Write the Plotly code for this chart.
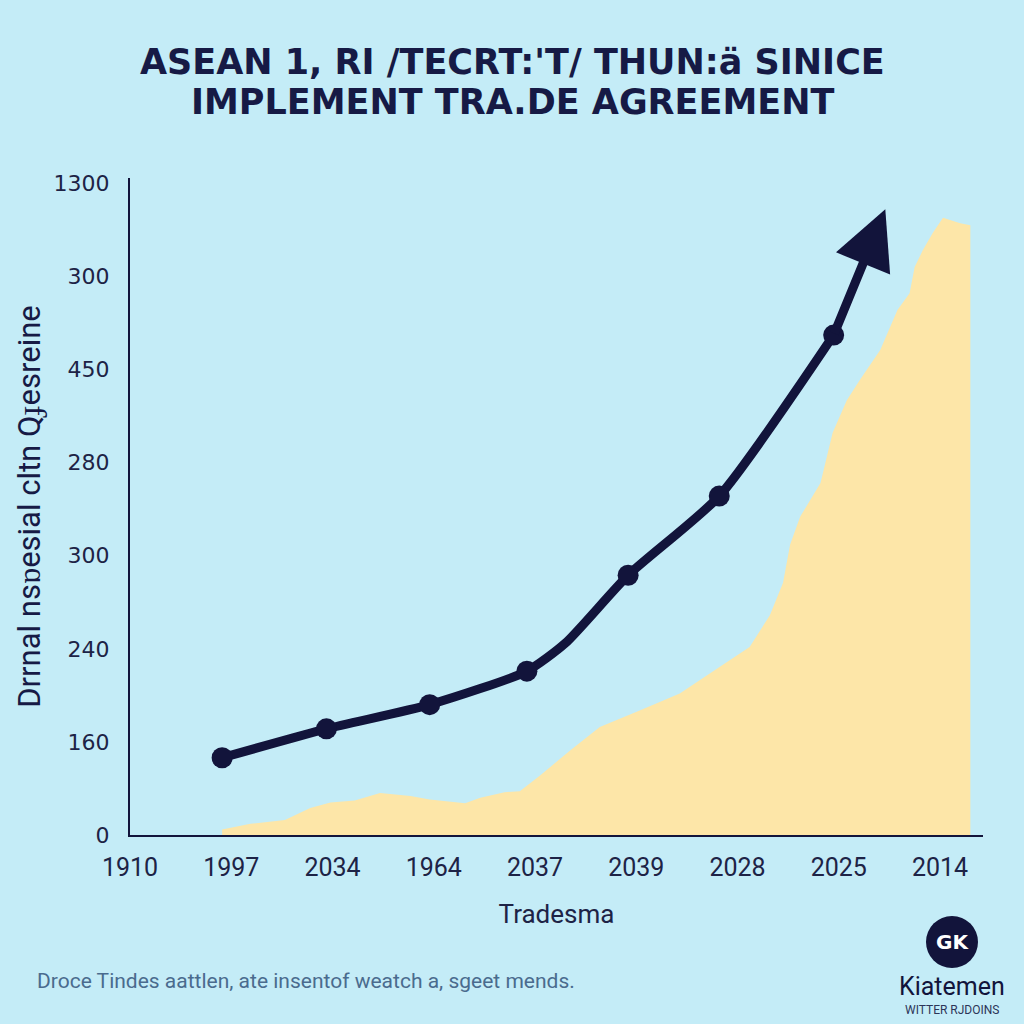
import plotly.graph_objects as go

# axis tick labels (as printed on the chart)
x_tick_labels = ["1910", "1997", "2034", "1964", "2037", "2039", "2028", "2025", "2014"]
y_tick_labels = ["0", "160", "240", "300", "280", "450", "300", "1300"]

# trend line (positions in tick units)
trend_x = [0.91, 1.94, 2.96, 3.92, 4.30, 4.92, 5.82, 6.95]
trend_y = [0.83, 1.14, 1.40, 1.76, 2.06, 2.79, 3.64, 5.37]
marker_x = [0.91, 1.94, 2.96, 3.92, 4.92, 5.82, 6.95]
marker_y = [0.83, 1.14, 1.40, 1.76, 2.79, 3.64, 5.37]
arrow_tip = (7.46, 6.72)

# shaded trade volume area
area_x = [0.91, 1.19, 1.53, 1.78, 1.98, 2.22, 2.47, 2.77, 2.96, 3.31, 3.46, 3.70,
          3.85, 4.05, 4.35, 4.64, 5.04, 5.43, 5.83, 6.12, 6.32, 6.45, 6.52, 6.62,
          6.82, 6.94, 7.08, 7.21, 7.41, 7.58, 7.70, 7.75, 7.83, 7.93, 8.03, 8.20, 8.30]
area_y = [0.06, 0.12, 0.16, 0.29, 0.35, 0.37, 0.45, 0.42, 0.38, 0.34, 0.40, 0.46,
          0.47, 0.64, 0.91, 1.16, 1.34, 1.52, 1.81, 2.02, 2.36, 2.71, 3.12, 3.42,
          3.78, 4.32, 4.67, 4.89, 5.21, 5.64, 5.82, 6.10, 6.28, 6.47, 6.63, 6.57, 6.55]

title_lines = ["ASEAN 1, RI /TECRT:'T/ THUN:ä SINICE", "IMPLEMENT TRA.DE AGREEMENT"]

NAVY = "#12143b"
BG = "#c4ecf7"

fig = go.Figure()

fig.add_trace(
    go.Scatter(
        x=area_x,
        y=area_y,
        mode="lines",
        fill="tozeroy",
        fillcolor="#fde6a8",
        line=dict(color="#fde6a8", width=0),
        hoverinfo="skip",
        showlegend=False,
    )
)

fig.add_trace(
    go.Scatter(
        x=trend_x,
        y=trend_y,
        mode="lines",
        line=dict(color=NAVY, width=9, shape="spline", smoothing=0.6),
        showlegend=False,
    )
)

fig.add_trace(
    go.Scatter(
        x=marker_x,
        y=marker_y,
        mode="markers",
        marker=dict(color=NAVY, size=21),
        showlegend=False,
    )
)

fig.add_annotation(
    x=arrow_tip[0],
    y=arrow_tip[1],
    ax=trend_x[-1],
    ay=trend_y[-1],
    xref="x",
    yref="y",
    axref="x",
    ayref="y",
    text="",
    showarrow=True,
    arrowhead=2,
    arrowsize=1.3,
    arrowwidth=9,
    arrowcolor=NAVY,
    standoff=0,
)

# title, one annotation per line to control spacing
for line, ypix in zip(title_lines, [62, 102]):
    fig.add_annotation(
        text="<b>" + line + "</b>",
        xref="paper", yref="paper", x=(512 - 130) / 853, y=1 + (178 - ypix) / 657,
        xanchor="center", yanchor="middle",
        showarrow=False,
        font=dict(family="DejaVu Sans", size=35, color="#161a45"),
    )

# footnote
fig.add_annotation(
    text="Droce Tindes aattlen, ate insentof weatch a, sgeet mends.",
    xref="paper", yref="paper", x=(35 - 130) / 853, y=0, xanchor="left", yanchor="middle",
    yshift=-146, showarrow=False,
    font=dict(family="Roboto", size=21, color="#4a6b8e"),
)

# logo
fig.add_shape(
    type="circle", xref="paper", yref="paper",
    x0=(926 - 130) / 853, x1=(978 - 130) / 853,
    y0=-(968 - 835) / 657, y1=-(916 - 835) / 657,
    fillcolor=NAVY, line=dict(width=0),
)
fig.add_annotation(
    text="<b>GK</b>", xref="paper", yref="paper",
    x=(952 - 130) / 853, y=-(942 - 835) / 657, xanchor="center", yanchor="middle",
    showarrow=False, font=dict(family="DejaVu Sans", size=20, color="white"),
)
fig.add_annotation(
    text="Kiatemen", xref="paper", yref="paper",
    x=(952 - 130) / 853, y=-(986 - 835) / 657, xanchor="center", yanchor="middle",
    showarrow=False, font=dict(family="Roboto", size=25, color=NAVY),
)
fig.add_annotation(
    text="WITTER RJDOINS", xref="paper", yref="paper",
    x=(952 - 130) / 853, y=-(1010 - 835) / 657, xanchor="center", yanchor="middle",
    showarrow=False, font=dict(family="Roboto", size=12, color="#2c3558"),
)

fig.update_layout(
    width=1024,
    height=1024,
    autosize=False,
    paper_bgcolor=BG,
    plot_bgcolor=BG,
    margin=dict(l=130, r=41, t=178, b=189),
    font=dict(family="Roboto", color="#1d2346"),
    xaxis=dict(
        range=[0, 8.425],
        tickmode="array",
        tickvals=list(range(len(x_tick_labels))),
        ticktext=x_tick_labels,
        tickfont=dict(family="Roboto", size=25, color="#1d2346"),
        ticklabelstandoff=9,
        showgrid=False,
        zeroline=False,
        showline=True,
        linecolor=NAVY,
        linewidth=2,
        title=dict(text="Tradesma", font=dict(size=26, color="#1d2346"), standoff=24),
    ),
    yaxis=dict(
        range=[0, 7.057],
        tickmode="array",
        tickvals=list(range(len(y_tick_labels))),
        ticktext=y_tick_labels,
        tickfont=dict(family="DejaVu Sans", size=22, color="#1d2346"),
        ticklabelstandoff=14,
        showgrid=False,
        zeroline=False,
        showline=True,
        linecolor=NAVY,
        linewidth=2,
        title=dict(text="Drrnal nsɒesial cltn Qɟesreine", font=dict(size=31, color="#161a45"), standoff=4),
    ),
)

fig.write_html(
    "out.html",
    config={"displayModeBar": False},
    post_script="document.body.style.margin='0';document.body.style.background='" + BG + "';",
)
